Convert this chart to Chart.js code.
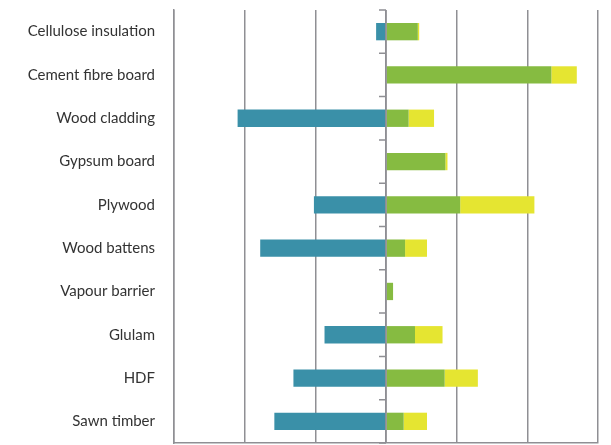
<!DOCTYPE html>
<html>
<head>
<meta charset="utf-8">
<script src="https://cdn.jsdelivr.net/npm/chart.js@4"></script>
<style>
  html, body { margin: 0; padding: 0; background: #fff; }
  #wrap { width: 611px; height: 445px; position: relative; }
</style>
</head>
<body>
<div id="wrap"><canvas id="chart"></canvas></div>
<script>
// Data
const categories = ['Cellulose insulation','Cement fibre board','Wood cladding','Gypsum board','Plywood',
  'Wood battens','Vapour barrier','Glulam','HDF','Sawn timber'];
const tealValues   = [-0.14, 0, -2.10, 0, -1.02, -1.78, 0, -0.87, -1.31, -1.58];
const greenValues  = [0.45, 2.34, 0.32, 0.84, 1.05, 0.27, 0.10, 0.41, 0.83, 0.25];
const yellowValues = [0.02, 0.36, 0.36, 0.03, 1.05, 0.31, 0, 0.39, 0.47, 0.33];
const xTicks = [-3, -2, -1, 0, 1, 2, 3];

const gridColor = '#8f8f94';

// small category ticks on the zero line
const zeroTicks = {
  id: 'zeroTicks',
  afterDatasetsDraw(chart){
    const ctx = chart.ctx;
    const x = chart.scales.x.getPixelForValue(0);
    const y = chart.scales.y;
    ctx.save();
    ctx.strokeStyle = gridColor;
    ctx.lineWidth = 1.5;
    ctx.beginPath();
    ctx.moveTo(x, chart.chartArea.top);
    ctx.lineTo(x, chart.chartArea.bottom);
    for(let i=0;i<=categories.length;i++){
      const yy = y.getPixelForValue(i - 0.5);
      ctx.moveTo(x - 7, yy);
      ctx.lineTo(x, yy);
    }
    ctx.stroke();
    ctx.restore();
  }
};

new Chart(document.getElementById('chart'), {
  type: 'bar',
  data: {
    labels: categories,
    datasets: [
      { label: 'Series 1', data: tealValues, backgroundColor: '#3a90a8' },
      { label: 'Series 2', data: greenValues, backgroundColor: '#86bb41' },
      { label: 'Series 3', data: yellowValues, backgroundColor: '#e5e531' }
    ]
  },
  options: {
    indexAxis: 'y',
    responsive: true,
    maintainAspectRatio: false,
    animation: false,
    categoryPercentage: 1,
    barPercentage: 0.4,
    layout: { padding: { top: 10, right: 13, bottom: 2, left: 0 } },
    plugins: { legend: { display: false }, tooltip: { enabled: false } },
    scales: {
      x: {
        stacked: true,
        min: xTicks[0],
        max: xTicks[xTicks.length - 1],
        afterBuildTicks: s => { s.ticks = xTicks.map(v => ({ value: v })); },
        afterFit: s => { s.height = 0; s.paddingLeft = 0; s.paddingRight = 0; },
        ticks: { display: false },
        grid: { color: gridColor, lineWidth: 1.5, drawTicks: false },
        border: { color: gridColor, width: 1.5 }
      },
      y: {
        stacked: true,
        afterFit: s => { s.width = 174; s.paddingTop = 0; s.paddingBottom = 0; },
        ticks: { color: '#333', font: { family: 'Lato', size: 15 }, padding: 19 },
        grid: { display: false, drawTicks: false },
        border: { color: gridColor, width: 1.5 }
      }
    }
  },
  plugins: [zeroTicks]
});
</script>
</body>
</html>
